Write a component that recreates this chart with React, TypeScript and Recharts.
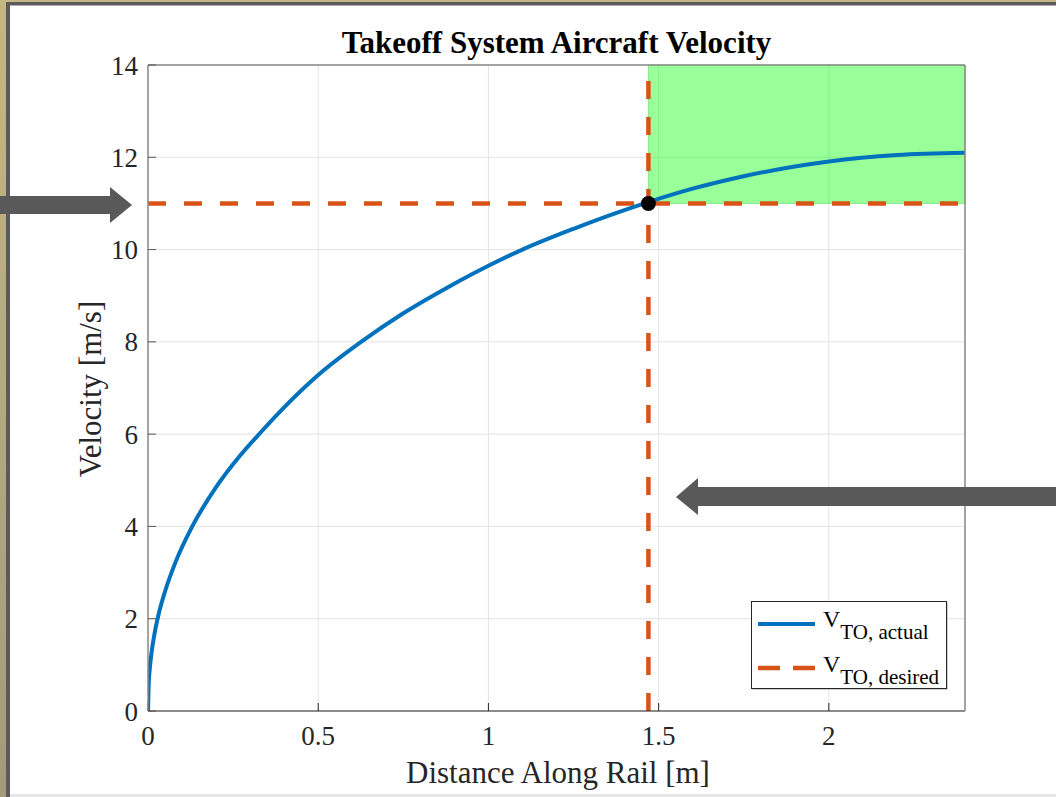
import React from "react";
import {
  CartesianGrid,
  Line,
  LineChart,
  ReferenceArea,
  ReferenceDot,
  ReferenceLine,
  XAxis,
  YAxis,
} from "recharts";

const distance = [
  0, 0.002, 0.005, 0.01, 0.02, 0.03, 0.05, 0.08, 0.13, 0.2, 0.27, 0.33, 0.4, 0.5,
  0.63, 0.75, 0.88, 1.0, 1.1, 1.25, 1.37, 1.47, 1.6, 1.75, 1.9, 2.0, 2.2, 2.4,
];
const velocity = [
  0, 0.58, 0.9, 1.24, 1.71, 2.06, 2.59, 3.21, 4.0, 4.85, 5.53, 6.03, 6.58, 7.28,
  8.02, 8.62, 9.18, 9.65, 10.0, 10.45, 10.78, 11.03, 11.32, 11.59, 11.8, 11.91,
  12.05, 12.1,
];

const xTicks = [0, 0.5, 1, 1.5, 2];
const yTicks = [0, 2, 4, 6, 8, 10, 12, 14];

const desiredVelocity = 11;
const takeoffDistance = 1.47;
const railLength = 2.4;
const velocityMax = 14;

const SERIF = "'Liberation Serif', 'Times New Roman', serif";
const BLUE = "#0072BD";
const ORANGE = "#D95319";
const ARROW = "#595959";

const tickStyle = { fontSize: 27, fill: "#262626", fontFamily: SERIF };

function LegendLabel({ y, sub }: { y: number; sub: string }) {
  return (
    <text x={72} y={y} fontFamily={SERIF} fontSize={24} fill="#000">
      V
      <tspan dy={12} fontSize={21}>
        {sub}
      </tspan>
    </text>
  );
}

function Legend() {
  return (
    <svg
      width={198}
      height={90}
      style={{ position: "absolute", left: 751, top: 601 }}
    >
      <rect x={1.5} y={1.5} width={195} height={87} fill="#9a9a9a" />
      <rect x={0.5} y={0.5} width={195} height={87} fill="#fff" stroke="#262626" />
      <line x1={7} x2={64} y1={23} y2={23} stroke={BLUE} strokeWidth={4} />
      <LegendLabel y={26} sub="TO, actual" />
      <line
        x1={7}
        x2={64}
        y1={67}
        y2={67}
        stroke={ORANGE}
        strokeWidth={4.5}
        strokeDasharray="22 13"
      />
      <LegendLabel y={71} sub="TO, desired" />
    </svg>
  );
}

export default function App() {
  const data = distance.map((d, i) => ({ distance: d, velocity: velocity[i] }));

  return (
    <div
      style={{
        position: "absolute",
        left: 0,
        top: 0,
        width: 1056,
        height: 797,
        background: "#fff",
        overflow: "hidden",
      }}
    >
      <LineChart
        width={1056}
        height={797}
        data={data}
        margin={{ top: 64, right: 90, bottom: 36, left: 88 }}
      >
        <CartesianGrid stroke="#e3e3e3" />
        <ReferenceArea
          x1={takeoffDistance}
          x2={railLength}
          y1={desiredVelocity}
          y2={velocityMax}
          fill="#00ff00"
          fillOpacity={0.4}
          stroke="#00b000"
          strokeOpacity={0.3}
        />
        <XAxis
          dataKey="distance"
          type="number"
          domain={[0, railLength]}
          ticks={xTicks}
          allowDataOverflow
          height={50}
          tickSize={-8}
          tickMargin={23}
          tick={tickStyle}
          axisLine={{ stroke: "#262626" }}
          tickLine={{ stroke: "#262626" }}
        />
        <XAxis
          xAxisId="top"
          orientation="top"
          type="number"
          domain={[0, railLength]}
          ticks={xTicks}
          allowDataOverflow
          height={1}
          tickSize={-8}
          tick={false}
          axisLine={{ stroke: "#8a8a8a", strokeWidth: 1.5 }}
          tickLine={{ stroke: "#555" }}
        />
        <YAxis
          type="number"
          domain={[0, velocityMax]}
          ticks={yTicks}
          allowDataOverflow
          width={60}
          tickSize={-8}
          tickMargin={18}
          tick={tickStyle}
          axisLine={{ stroke: "#8a8a8a", strokeWidth: 1.5 }}
          tickLine={{ stroke: "#555" }}
        />
        <YAxis
          yAxisId="right"
          orientation="right"
          type="number"
          domain={[0, velocityMax]}
          ticks={yTicks}
          allowDataOverflow
          width={1}
          tickSize={-8}
          tick={false}
          axisLine={{ stroke: "#8a8a8a", strokeWidth: 1.5 }}
          tickLine={{ stroke: "#555" }}
        />
        <ReferenceLine
          y={desiredVelocity}
          stroke={ORANGE}
          strokeWidth={4.5}
          strokeDasharray="18 18"
        />
        <ReferenceLine
          x={takeoffDistance}
          stroke={ORANGE}
          strokeWidth={4.5}
          strokeDasharray="18 18"
        />
        <Line
          dataKey="velocity"
          type="monotone"
          stroke={BLUE}
          strokeWidth={4}
          dot={false}
          isAnimationActive={false}
        />
        <ReferenceDot
          x={takeoffDistance}
          y={desiredVelocity}
          r={7.5}
          fill="#000"
          stroke="none"
        />
      </LineChart>

      <svg
        width={1056}
        height={797}
        style={{ position: "absolute", left: 0, top: 0, pointerEvents: "none" }}
      >
        <defs>
          <linearGradient id="frame" x1="0" y1="0" x2="0" y2="1">
            <stop offset="0%" stopColor="#c4b784" />
            <stop offset="100%" stopColor="#a39a7c" />
          </linearGradient>
        </defs>
        {/* slide frame */}
        <rect x={0} y={0} width={1056} height={2} fill="#c4b784" />
        <rect x={0} y={0} width={6} height={797} fill="url(#frame)" />
        <rect x={6} y={2} width={1050} height={3.5} fill="#5b5b5b" />
        <rect x={6} y={2} width={4} height={795} fill="#5b5b5b" />
        <rect x={10} y={794} width={1046} height={3} fill="#e6e6e6" />

        <text
          x={556.5}
          y={53}
          textAnchor="middle"
          fontFamily={SERIF}
          fontWeight="bold"
          fontSize={31}
          fill="#000"
        >
          Takeoff System Aircraft Velocity
        </text>
        <text
          x={558}
          y={783}
          textAnchor="middle"
          fontFamily={SERIF}
          fontSize={31}
          fill="#262626"
        >
          Distance Along Rail [m]
        </text>
        <text
          transform="translate(101,389) rotate(-90)"
          textAnchor="middle"
          fontFamily={SERIF}
          fontSize={31}
          fill="#262626"
        >
          Velocity [m/s]
        </text>

        {/* callout arrows */}
        <polygon
          points="0,196 110,196 110,187 132,205 110,223 110,214 0,214"
          fill={ARROW}
        />
        <polygon
          points="1056,487 698,487 698,478 676,497 698,515 698,506 1056,506"
          fill={ARROW}
        />
      </svg>

      <Legend />
    </div>
  );
}
